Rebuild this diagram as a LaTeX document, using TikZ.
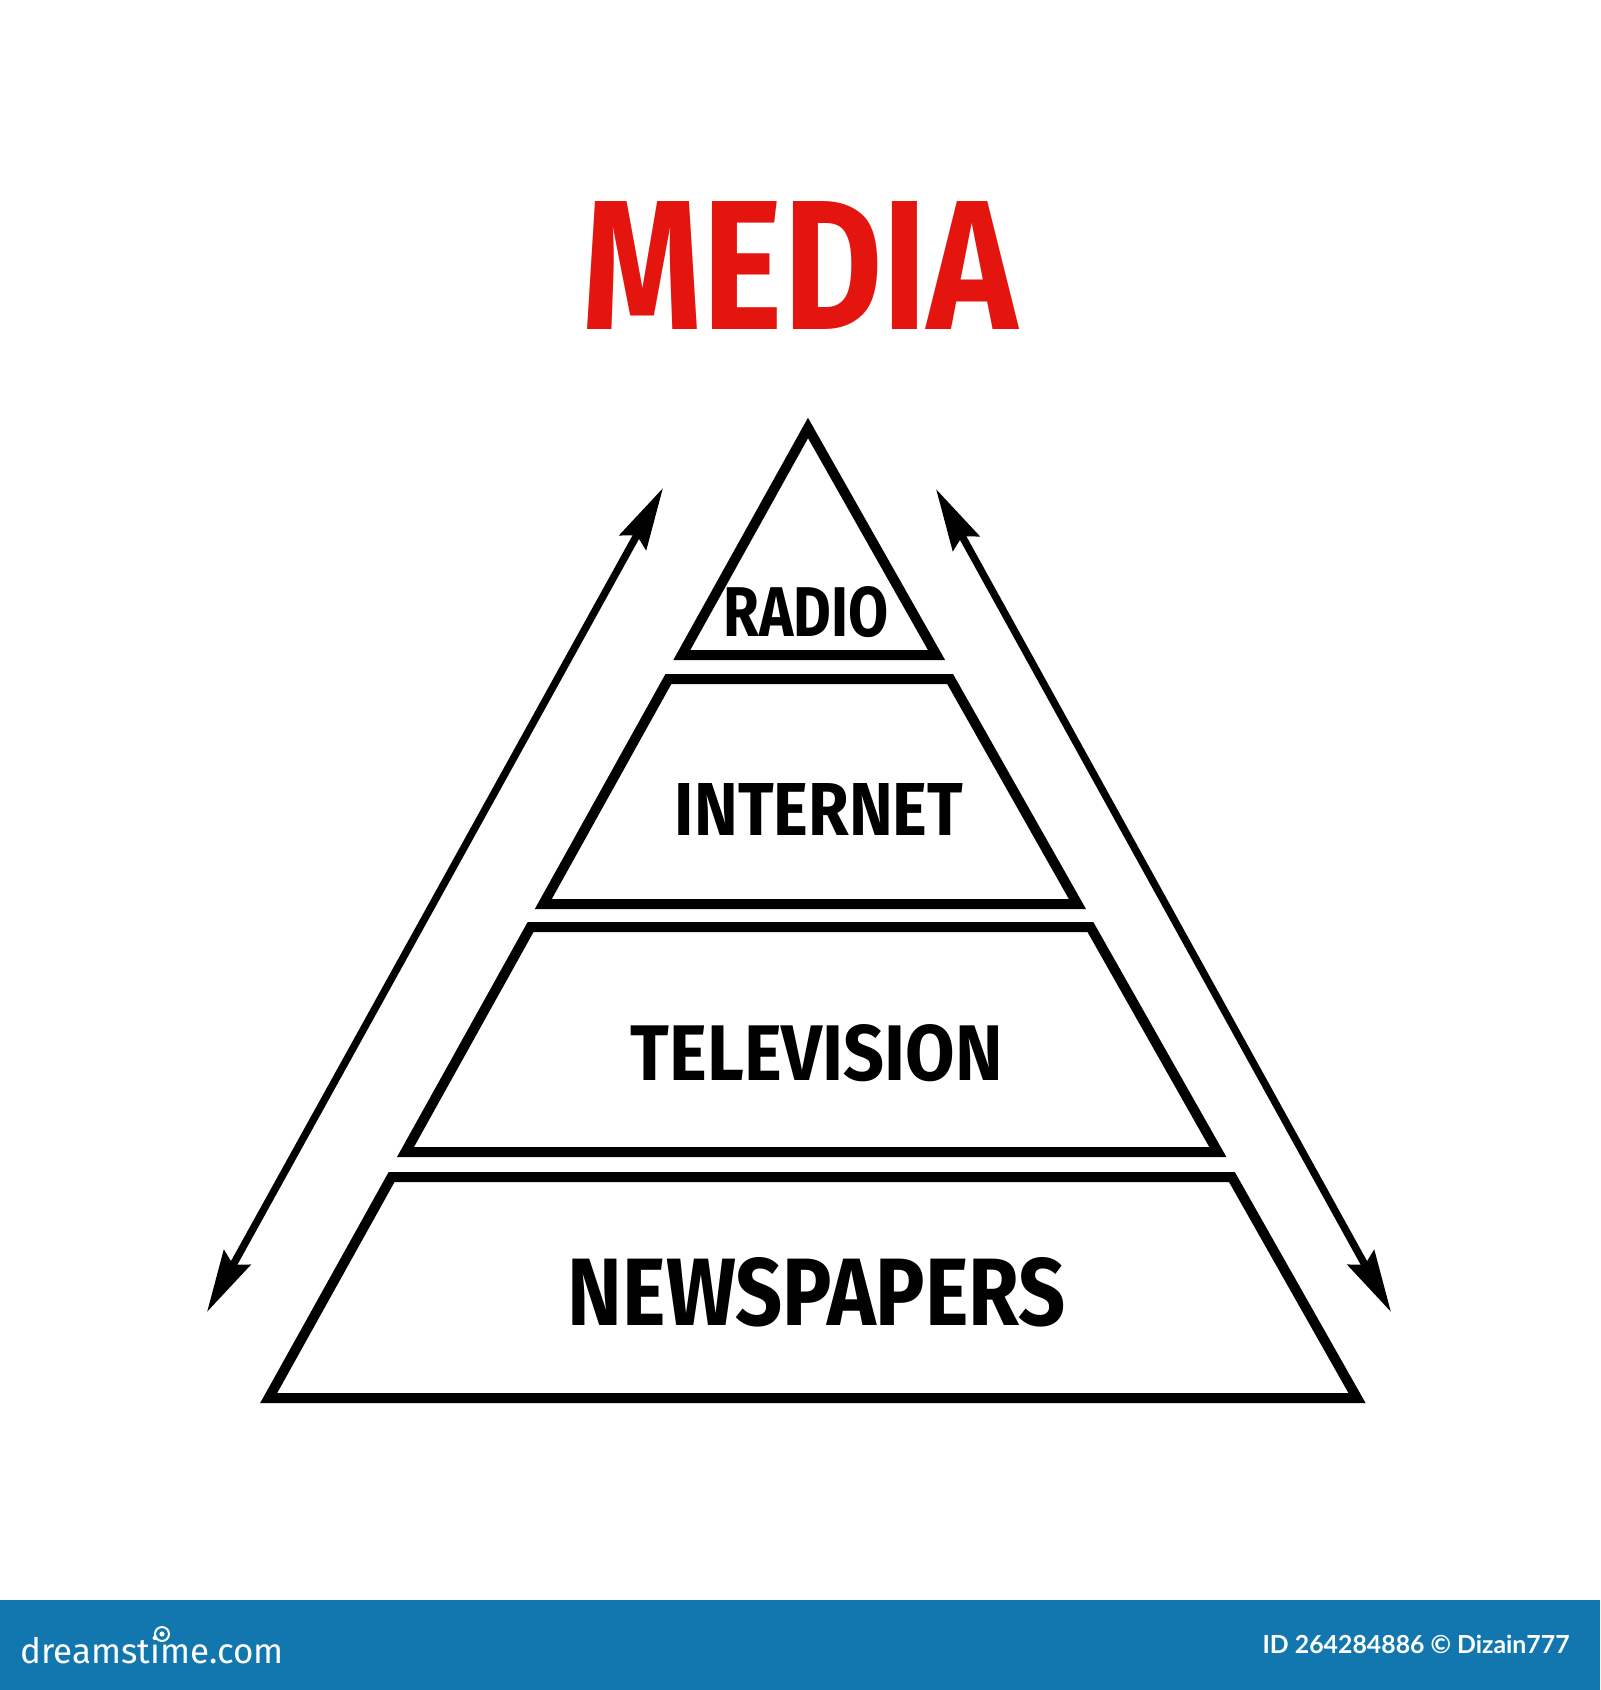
\documentclass[tikz,border=0pt]{standalone}
\usepackage{fontspec}
\setmainfont{Fira Sans}
\newfontfamily\idfont{Lato}
\usetikzlibrary{arrows.meta}
\definecolor{medred}{RGB}{228,20,14}
\definecolor{bandblue}{RGB}{17,119,174}
\begin{document}
\begin{tikzpicture}[x=0.5pt,y=-0.5pt,
  band/.style={draw=black,line width=5pt,line join=miter},
  headtip/.tip={Stealth[length=31pt,width=15pt,inset=4pt]},
  dblarrow/.style={line width=3.7pt,headtip-headtip},
  lbl/.style={inner sep=0pt,outer sep=0pt,font=\bfseries}]
\useasboundingbox (0,0) rectangle (1600,1690);
\fill[white] (0,0) rectangle (1600,1690);
% footer band
\fill[bandblue] (0,1600) rectangle (1600,1690);

% title
\node[lbl,text=medred] (title) at (800,265) {\resizebox{217pt}{64pt}{\bfseries MEDIA}};

% pyramid bands
\coordinate (apex) at (808,428);
\coordinate (r1) at (936.5,655);  \coordinate (r0) at (681.8,655);
\coordinate (i0) at (668.4,679);  \coordinate (i1) at (950.1,679);
\coordinate (i2) at (1077.4,904); \coordinate (i3) at (543.3,904);
\coordinate (t0) at (530.6,927);  \coordinate (t1) at (1090.4,927);
\coordinate (t2) at (1217.8,1152);\coordinate (t3) at (405.5,1152);
\coordinate (n0) at (391.6,1177); \coordinate (n1) at (1231.9,1177);
\coordinate (n2) at (1357,1398);  \coordinate (n3) at (268.7,1398);
\draw[band] (apex) -- (r1) -- (r0) -- cycle;
\draw[band] (i0) -- (i1) -- (i2) -- (i3) -- cycle;
\draw[band] (t0) -- (t1) -- (t2) -- (t3) -- cycle;
\draw[band] (n0) -- (n1) -- (n2) -- (n3) -- cycle;

% labels
\node[lbl] (radio) at (806,612) {\resizebox{82.5pt}{25pt}{\bfseries RADIO}};
\node[lbl] (internet) at (819,809) {\resizebox{144pt}{26pt}{\bfseries INTERNET}};
\node[lbl] (television) at (817,1053) {\resizebox{186pt}{28pt}{\bfseries TELEVISION}};
\node[lbl] (newspapers) at (817,1292) {\resizebox{249pt}{34pt}{\bfseries NEWSPAPERS}};

% side arrows
\coordinate (la1) at (663,488);
\coordinate (la2) at (207,1312);
\coordinate (ra1) at (936,489);
\coordinate (ra2) at (1391,1312);
\draw[dblarrow] (la1) -- (la2);
\draw[dblarrow] (ra1) -- (ra2);

% footer texts
\node[inner sep=0pt,anchor=base west,text=white] (brand) at (20,1663)
  {\resizebox{131.5pt}{!}{dreamstime.com}};
\draw[white,line width=1pt] (162,1634) circle (3.5pt);
\fill[white] (162,1634) circle (1.3pt);
\node[inner sep=0pt,anchor=base east,text=white] (imgid) at (1570,1653)
  {\resizebox{153.5pt}{!}{\idfont\bfseries ID 264284886 © Dizain777}};
\end{tikzpicture}
\end{document}
